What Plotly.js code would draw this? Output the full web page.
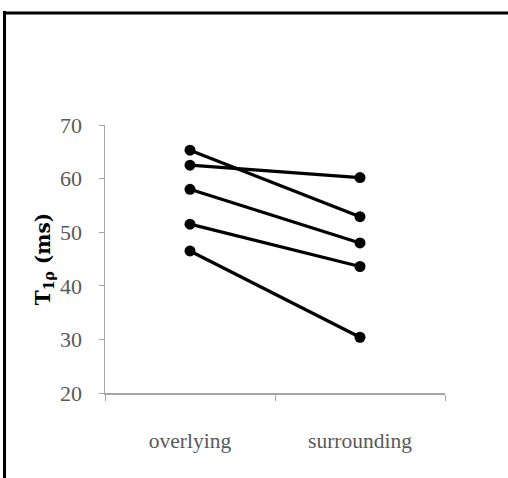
<!DOCTYPE html>
<html>
<head>
<meta charset="utf-8">
<script src="https://cdn.plot.ly/plotly-3.0.1.min.js"></script>
<style>
  html, body { margin: 0; padding: 0; background: #ffffff; }
  #chart { width: 508px; height: 478px; }
</style>
</head>
<body>
<div id="chart"></div>
<script>
// Paired T1rho measurements: each subject has one overlying and one surrounding value
const categories = ['overlying', 'surrounding'];
const overlying = [65.3, 62.5, 58.0, 51.5, 46.5];
const surrounding = [52.9, 60.2, 48.0, 43.6, 30.4];
const yTicks = [20, 30, 40, 50, 60, 70];

const traces = overlying.map((v, i) => ({
  type: 'scatter',
  mode: 'lines+markers',
  x: categories,
  y: [v, surrounding[i]],
  line: { color: '#000000', width: 3.2 },
  marker: { color: '#000000', size: 11 },
  showlegend: false,
  hoverinfo: 'x+y'
}));

const axisGrey = '#a6a6a6';
const labelGrey = '#595959';
const serif = 'Liberation Serif, DejaVu Serif, serif';

const layout = {
  width: 508,
  height: 478,
  margin: { l: 105, r: 63, t: 125, b: 85, autoexpand: false },
  paper_bgcolor: '#ffffff',
  plot_bgcolor: '#ffffff',
  showlegend: false,
  xaxis: {
    type: 'category',
    range: [-0.5, 1.5],
    tickson: 'boundaries',
    ticks: 'outside',
    ticklen: 6,
    tickcolor: axisGrey,
    showline: true,
    linecolor: axisGrey,
    linewidth: 1.5,
    showgrid: false,
    zeroline: false,
    ticklabelstandoff: 28,
    tickfont: { family: serif, size: 21.5, color: labelGrey }
  },
  yaxis: {
    range: [20, 70],
    tickvals: yTicks,
    ticktext: yTicks.map(String),
    ticks: 'outside',
    ticklen: 5,
    tickcolor: axisGrey,
    showline: true,
    linecolor: axisGrey,
    linewidth: 1.5,
    showgrid: false,
    zeroline: false,
    ticklabelstandoff: 12,
    tickfont: { family: serif, size: 22, color: labelGrey },
    title: {
      text: '<b>T<sub>1ρ</sub> (ms)</b>',
      font: { family: 'DejaVu Serif, Liberation Serif, serif', size: 20, color: '#000000' },
      standoff: 4
    }
  },
  // frame lines along the top and left edges of the figure
  shapes: [
    { type: 'line', xref: 'paper', yref: 'paper',
      x0: -0.3, x1: 1.2, y0: 1.418, y1: 1.418,
      line: { color: '#000000', width: 3 } },
    { type: 'line', xref: 'paper', yref: 'paper',
      x0: -0.2955, x1: -0.2955, y0: 1.425, y1: -0.33,
      line: { color: '#000000', width: 3 } }
  ]
};

Plotly.newPlot('chart', traces, layout, { displayModeBar: false, staticPlot: true });
</script>
</body>
</html>
